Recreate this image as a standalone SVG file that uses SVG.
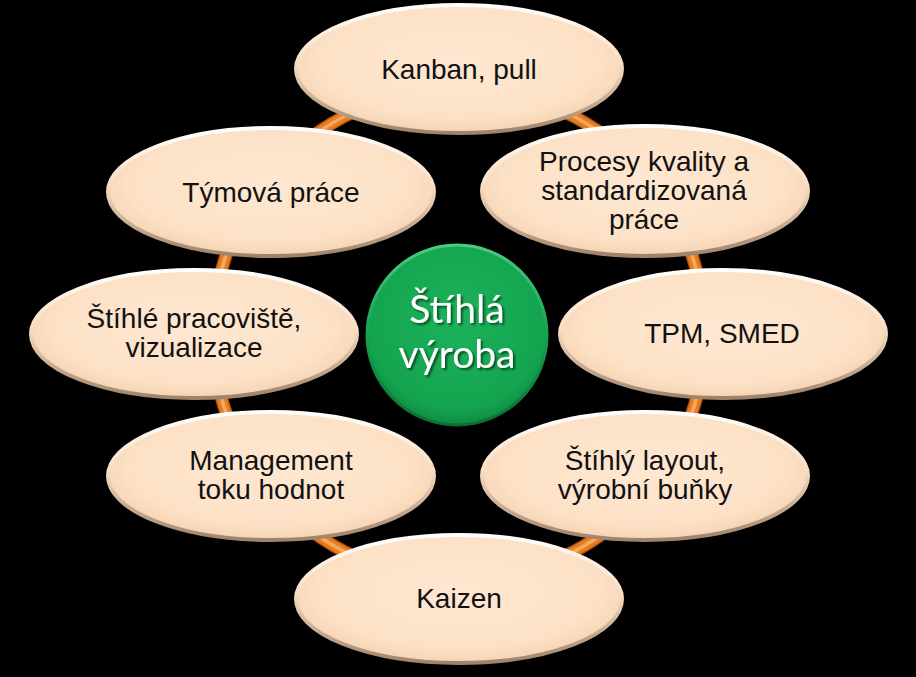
<svg xmlns="http://www.w3.org/2000/svg" width="916" height="677" viewBox="0 0 916 677">
<style>
.node ellipse{fill:url(#peach);stroke:url(#rim);stroke-width:4}
.lbl{font-family:"Liberation Sans",Arial,sans-serif;font-size:28px;fill:#111;text-anchor:middle}
.tubeBase{fill:none;stroke:#B4580F;stroke-width:13}
.tube{fill:none;stroke:#E67D22;stroke-width:10}
.tubeHi{fill:none;stroke:#F8A85A;stroke-width:3.5}
.center{font-family:Lato,"Open Sans",sans-serif;font-size:39px;fill:#fff;text-anchor:middle}
</style>
<defs>
<radialGradient id="peach" cx="50%" cy="45%" r="55%">
<stop offset="0" stop-color="#FEE7D1"/>
<stop offset="0.8" stop-color="#FCE1C6"/>
<stop offset="1" stop-color="#F5D3B3"/>
</radialGradient>
<linearGradient id="rim" x1="0" y1="0" x2="0" y2="1">
<stop offset="0" stop-color="#FFFFFF"/>
<stop offset="0.45" stop-color="#F8DEC3"/>
<stop offset="1" stop-color="#9E836B"/>
</linearGradient>
<radialGradient id="greenFill" cx="50%" cy="42%" r="58%">
<stop offset="0" stop-color="#1CB25A"/>
<stop offset="0.85" stop-color="#14A450"/>
<stop offset="1" stop-color="#0E8C42"/>
</radialGradient>
<linearGradient id="greenRim" x1="0" y1="0" x2="0" y2="1">
<stop offset="0" stop-color="#4CCB80"/>
<stop offset="0.5" stop-color="#15A24F"/>
<stop offset="1" stop-color="#0A6E33"/>
</linearGradient>
<filter id="txtShadow" x="-20%" y="-20%" width="140%" height="140%">
<feDropShadow dx="2" dy="2" stdDeviation="1.2" flood-color="#000" flood-opacity="0.55"/>
</filter>
</defs>
<rect x="0" y="0" width="916" height="677" fill="#000"/>
<g id="connectors">
<g class="tubeBase-layer">
<path class="tubeBase" d="M459 88 A246 246 0 0 1 632.9 160.1"/>
<path class="tubeBase" d="M632.9 160.1 A246 246 0 0 1 705 334"/>
<path class="tubeBase" d="M705 334 A246 246 0 0 1 632.9 507.9"/>
<path class="tubeBase" d="M632.9 507.9 A246 246 0 0 1 459 580"/>
<path class="tubeBase" d="M459 580 A246 246 0 0 1 285.1 507.9"/>
<path class="tubeBase" d="M285.1 507.9 A246 246 0 0 1 213 334"/>
<path class="tubeBase" d="M213 334 A246 246 0 0 1 285.1 160.1"/>
<path class="tubeBase" d="M285.1 160.1 A246 246 0 0 1 459 88"/>
</g>
<g>
<path class="tube" d="M459 88 A246 246 0 0 1 632.9 160.1"/>
<path class="tube" d="M632.9 160.1 A246 246 0 0 1 705 334"/>
<path class="tube" d="M705 334 A246 246 0 0 1 632.9 507.9"/>
<path class="tube" d="M632.9 507.9 A246 246 0 0 1 459 580"/>
<path class="tube" d="M459 580 A246 246 0 0 1 285.1 507.9"/>
<path class="tube" d="M285.1 507.9 A246 246 0 0 1 213 334"/>
<path class="tube" d="M213 334 A246 246 0 0 1 285.1 160.1"/>
<path class="tube" d="M285.1 160.1 A246 246 0 0 1 459 88"/>
</g>
<g>
<path class="tubeHi" d="M459 88 A246 246 0 0 1 632.9 160.1"/>
<path class="tubeHi" d="M632.9 160.1 A246 246 0 0 1 705 334"/>
<path class="tubeHi" d="M705 334 A246 246 0 0 1 632.9 507.9"/>
<path class="tubeHi" d="M632.9 507.9 A246 246 0 0 1 459 580"/>
<path class="tubeHi" d="M459 580 A246 246 0 0 1 285.1 507.9"/>
<path class="tubeHi" d="M285.1 507.9 A246 246 0 0 1 213 334"/>
<path class="tubeHi" d="M213 334 A246 246 0 0 1 285.1 160.1"/>
<path class="tubeHi" d="M285.1 160.1 A246 246 0 0 1 459 88"/>
</g>
</g>
<g id="node-center">
<circle cx="457" cy="335" r="90" fill="url(#greenFill)" stroke="url(#greenRim)" stroke-width="3"/>
<g filter="url(#txtShadow)">
<text class="center" x="457" y="323">Štíhlá</text>
<text class="center" x="457" y="368">výroba</text>
</g>
</g>
<g id="node-kanban" class="node">
<ellipse cx="459" cy="69" rx="163" ry="64"/>
<text class="lbl" x="459" y="79">Kanban, pull</text>
</g>
<g id="node-procesy" class="node">
<ellipse cx="645" cy="191" rx="163" ry="65"/>
<text class="lbl" x="644" y="171">Procesy kvality a</text>
<text class="lbl" x="644" y="200">standardizovaná</text>
<text class="lbl" x="644" y="229">práce</text>
</g>
<g id="node-tpm" class="node">
<ellipse cx="723" cy="334" rx="163" ry="64"/>
<text class="lbl" x="722" y="343">TPM, SMED</text>
</g>
<g id="node-layout" class="node">
<ellipse cx="645" cy="476" rx="163" ry="64"/>
<text class="lbl" x="645" y="470">Štíhlý layout,</text>
<text class="lbl" x="645" y="499">výrobní buňky</text>
</g>
<g id="node-kaizen" class="node">
<ellipse cx="459" cy="599" rx="163" ry="64"/>
<text class="lbl" x="459" y="608">Kaizen</text>
</g>
<g id="node-management" class="node">
<ellipse cx="271" cy="476" rx="163" ry="64"/>
<text class="lbl" x="271" y="470">Management</text>
<text class="lbl" x="271" y="499">toku hodnot</text>
</g>
<g id="node-pracoviste" class="node">
<ellipse cx="194" cy="334" rx="163" ry="64"/>
<text class="lbl" x="194" y="328">Štíhlé pracoviště,</text>
<text class="lbl" x="194" y="357">vizualizace</text>
</g>
<g id="node-tymova" class="node">
<ellipse cx="271" cy="192" rx="163" ry="64"/>
<text class="lbl" x="271" y="202">Týmová práce</text>
</g>
</svg>
